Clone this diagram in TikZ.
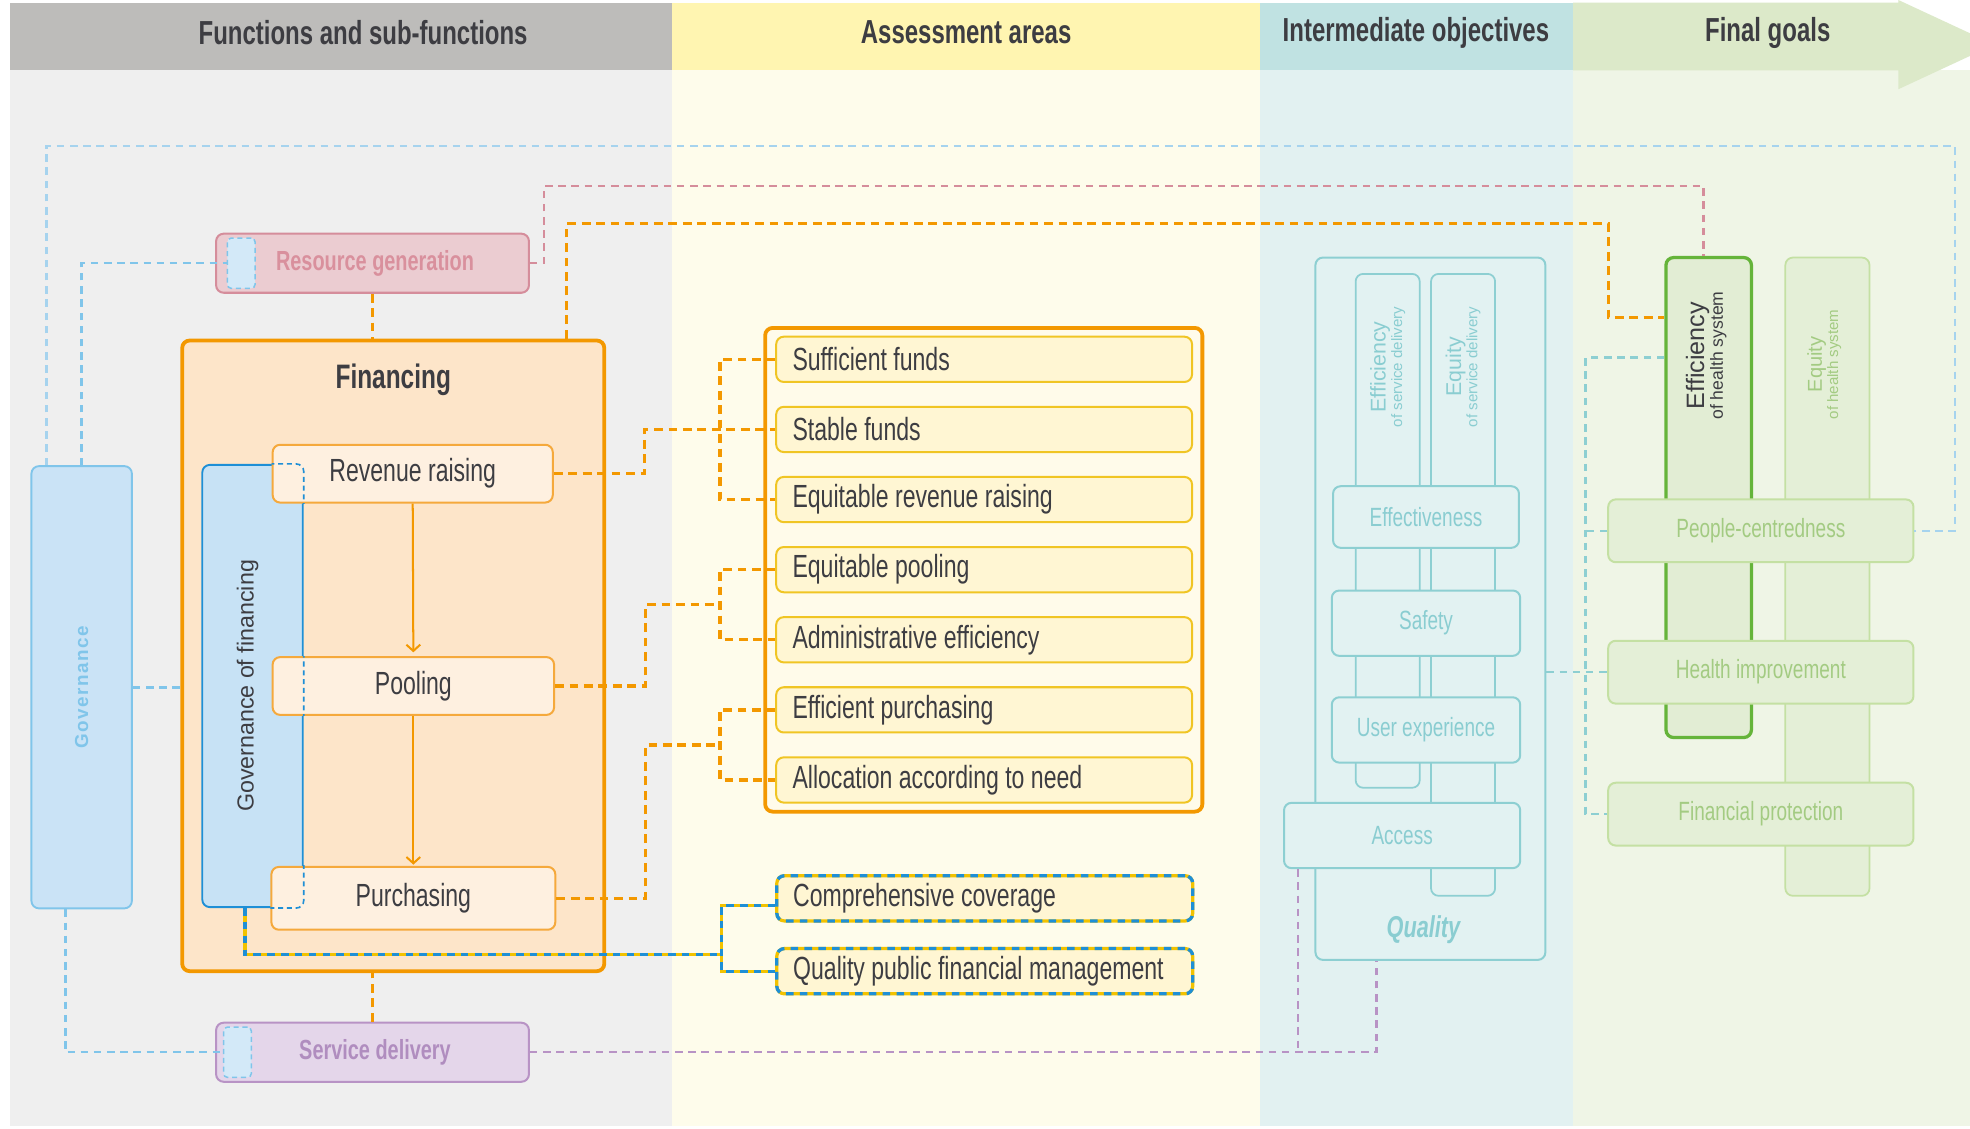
\documentclass[tikz,border=0pt]{standalone}
\usepackage{fontspec}
\setmainfont{Liberation Sans}
\newfontfamily\condfont{Liberation Sans}[FakeStretch=0.72]
\newfontfamily\spacedfont{Liberation Sans}[LetterSpace=8.0]
\usetikzlibrary{arrows.meta,calc}

\definecolor{hdgray}{HTML}{BDBCBA}
\definecolor{hdyellow}{HTML}{FFF5B1}
\definecolor{hdteal}{HTML}{C0E2E2}
\definecolor{hdgreen}{HTML}{DCE9C9}
\definecolor{bggray}{HTML}{EFEFEF}
\definecolor{bgyellow}{HTML}{FEFCEB}
\definecolor{bgteal}{HTML}{E2F1F1}
\definecolor{bggreen}{HTML}{EFF5E6}
\definecolor{txtdark}{HTML}{3D3D42}
\definecolor{finorange}{HTML}{F39800}
\definecolor{suborange}{HTML}{F5A93C}
\definecolor{finfill}{HTML}{FDE5C9}
\definecolor{subfill}{HTML}{FEF0E0}
\definecolor{itemline}{HTML}{F0C524}
\definecolor{itemfill}{HTML}{FFF6D3}
\definecolor{keyyellow}{HTML}{F2C200}
\definecolor{framefill}{HTML}{FFFBEA}
\definecolor{govblue}{HTML}{1E8FD6}
\definecolor{govfill}{HTML}{C7E2F5}
\definecolor{govlt}{HTML}{80C5EA}
\definecolor{govltfill}{HTML}{CAE3F6}
\definecolor{govpale}{HTML}{A6D3EE}
\definecolor{innerfill}{HTML}{D3E9F8}
\definecolor{rgpink}{HTML}{D58D9B}
\definecolor{rgfill}{HTML}{EBCCD1}
\definecolor{rgtext}{HTML}{D9909D}
\definecolor{sdpurple}{HTML}{B893C5}
\definecolor{sdfill}{HTML}{E4D6EA}
\definecolor{sdtext}{HTML}{B08DBF}
\definecolor{qteal}{HTML}{8DCFD2}
\definecolor{qfill}{HTML}{E2F2F2}
\definecolor{qtext}{HTML}{8ACDD1}
\definecolor{ggreen}{HTML}{65B43A}
\definecolor{glight}{HTML}{C4E0A3}
\definecolor{gfill}{HTML}{E4EFD7}
\definecolor{effhsfill}{HTML}{E2EDD4}
\definecolor{gtext}{HTML}{A3CB82}

\begin{document}
\begin{tikzpicture}[x=1pt, y=-1pt, >={Straight Barb[length=5pt,width=11pt]}]
    \tikzstyle{box}=[rectangle, rounded corners=6pt, inner sep=0pt, align=center, text=txtdark, font=\condfont\fontsize{25.5}{27}\selectfont]
    \tikzstyle{header}=[text=txtdark, font=\condfont\bfseries\fontsize{26.5}{28}\selectfont]
    \tikzstyle{func}=[box, minimum width=249pt, minimum height=47pt, line width=1.6pt, font=\condfont\bfseries\fontsize{22}{24}\selectfont]
    \tikzstyle{inner}=[rectangle, rounded corners=3pt, fill=innerfill, draw=govlt, line width=1.2pt, dash pattern=on 4pt off 3pt, minimum width=22pt, minimum height=40pt]
    \tikzstyle{gov}=[box, minimum width=80pt, minimum height=352pt]
    \tikzstyle{sub}=[box, fill=subfill, draw=suborange, line width=1.6pt, minimum height=46pt]
    \tikzstyle{item}=[box, anchor=west, fill=itemfill, draw=itemline, line width=1.6pt, text width=305pt, inner xsep=13pt, align=flush left, minimum height=36pt]
    \tikzstyle{keyitem}=[item, draw=keyyellow, line width=2.6pt, postaction={draw=govblue, line width=2.6pt, dash pattern=on 6pt off 5pt}]
    \tikzstyle{qcol}=[box, fill=qfill, draw=qteal, line width=1.4pt, minimum width=51pt]
    \tikzstyle{qbox}=[box, fill=qfill, draw=qteal, line width=1.6pt, text=qtext, font=\condfont\fontsize{21}{23}\selectfont]
    \tikzstyle{gcol}=[box, fill=gfill, draw=glight, line width=1.4pt, minimum width=67pt]
    \tikzstyle{gbox}=[box, fill=gfill, draw=glight, line width=1.6pt, minimum width=243pt, minimum height=50pt, text=gtext, font=\condfont\fontsize{21}{23}\selectfont]
    \tikzstyle{collabel}=[rotate=90, align=center, inner sep=0pt]
    \tikzstyle{odash}=[draw=finorange, line width=2.6pt, dash pattern=on 7pt off 4.5pt]
    \tikzstyle{bdash}=[draw=govlt, line width=2pt, dash pattern=on 6pt off 4.5pt]
    \tikzstyle{bdashlt}=[draw=govpale, line width=1.8pt, dash pattern=on 6pt off 4.5pt]
    \tikzstyle{pdash}=[draw=rgpink, line width=2pt, dash pattern=on 6pt off 4.5pt]
    \tikzstyle{vdash}=[draw=sdpurple, line width=1.8pt, dash pattern=on 6pt off 4.5pt]
    \tikzstyle{tdash}=[draw=qteal, line width=2pt, dash pattern=on 6pt off 4.5pt]
    \tikzstyle{bydash}=[draw=keyyellow, line width=2.4pt, postaction={draw=govblue, line width=2.4pt, dash pattern=on 6pt off 5pt}]

    \useasboundingbox (0,0) rectangle (1568,898);
    \fill[white] (0,0) rectangle (1568,898);

    % Column backgrounds and headers
    \fill[bggray] (8,56) rectangle (535,896);
    \fill[bgyellow] (535,56) rectangle (1003,896);
    \fill[bgteal] (1003,56) rectangle (1252,896);
    \fill[bggreen] (1252,56) rectangle (1568,896);
    \fill[hdgray] (8,2) rectangle (535,56);
    \fill[hdyellow] (535,2) rectangle (1003,56);
    \fill[hdteal] (1003,2) rectangle (1252,56);
    \fill[hdgreen] (1252,2) -- (1511,2) -- (1511,0) -- (1568,26.5) -- (1568,44.5) -- (1511,71) -- (1511,56) -- (1252,56) -- cycle;
    \node[header] (hfun) at (289,26) {Functions and sub-functions};
    \node[header] (hass) at (769,26) {Assessment areas};
    \node[header] (hint) at (1127,26) {Intermediate objectives};
    \node[header] (hgoal) at (1407,26) {Final goals};

    % Functions and sub-functions
    \node[gov, fill=govltfill, draw=govlt, line width=1.5pt] (gov) at (65,547) {};
    \node[rotate=90, text=govlt, font=\spacedfont\bfseries\fontsize{15}{15}\selectfont] (govlabel) at (gov.center) {Governance};
    \node[func, fill=rgfill, draw=rgpink, text=rgtext] (res) at (296.5,209.5) {\hspace*{4pt}Resource generation};
    \node[inner] (resgov) at (192,209.5) {};
    \node[func, fill=sdfill, draw=sdpurple, text=sdtext] (serv) at (296.5,837.5) {\hspace*{4pt}Service delivery};
    \node[inner] (servgov) at (189,837.5) {};

    \node[box, fill=finfill, draw=finorange, line width=3pt, minimum width=336pt, minimum height=502pt] (fin) at (313,522) {};
    \node[box, font=\condfont\bfseries\fontsize{27}{29}\selectfont] (fintitle) at (313,302) {Financing};
    \node[gov, fill=govfill, draw=govblue, line width=1.5pt] (govfin) at (201,546) {};
    \node[rotate=90, text=txtdark, font=\fontsize{18.5}{20}\selectfont] (govfinlabel) at (197,546) {Governance of financing};

    \node[sub, minimum width=223pt] (rev) at (328.5,377) {Revenue raising};
    \node[sub, minimum width=224pt] (pool) at (329,546) {Pooling};
    \node[sub, minimum width=226pt, minimum height=50pt] (purch) at (329,715) {Purchasing};

    % governance of financing seen through the sub-functions
    \foreach \n in {rev,pool,purch} {
        \begin{scope}
            \clip (\n.north west) rectangle (\n.south east);
            \draw[govblue, line width=1.3pt, dash pattern=on 4pt off 3pt, rounded corners=6pt] (govfin.north west) rectangle (govfin.south east);
        \end{scope}
    }
    \draw[->, finorange, line width=1.6pt, shorten >=3pt] (rev.south) -- (pool.north);
    \draw[->, finorange, line width=1.6pt, shorten >=1pt] (pool.south) -- (purch.north);

    % Assessment areas
    \node[box, fill=framefill, draw=finorange, line width=3pt, minimum width=348pt, minimum height=385pt] (assess) at (783,453.5) {};
    \foreach \name/\txt [count=\i] in {suff/Sufficient funds, stab/Stable funds, eqrev/Equitable revenue raising, eqpool/Equitable pooling, admin/Administrative efficiency, effpur/Efficient purchasing, alloc/Allocation according to need}
        \node[item] (\name) at (617,{286+55.8*(\i-1)}) {\txt};
    \node[keyitem] (cover) at (617,715) {Comprehensive coverage};
    \node[keyitem] (pfm) at (617,773) {Quality public financial management};

    % Intermediate objectives
    \node[box, fill=qfill, draw=qteal, line width=1.6pt, minimum width=183pt, minimum height=559pt] (qual) at (1138.5,484.5) {};
    \node[box, text=qtext, font=\condfont\bfseries\itshape\fontsize{24}{26}\selectfont] (qlabel) at (1133,740) {Quality};
    \node[qcol, minimum height=409pt] (effsd) at (1104.5,422.5) {};
    \node[qcol, minimum height=495pt] (eqsd) at (1164.5,465.5) {};
    \node[collabel, text=qtext, font=\fontsize{12}{13}\selectfont] (effsdlabel) at (1104.5,292) {{\fontsize{17}{17}\selectfont Efficiency}\\of service delivery};
    \node[collabel, text=qtext, font=\fontsize{12}{13}\selectfont] (eqsdlabel) at (1164.5,292) {{\fontsize{17}{17}\selectfont Equity}\\of service delivery};
    \node[qbox, minimum width=148pt, minimum height=49pt] (effect) at (1135,411.5) {Effectiveness};
    \node[qbox, minimum width=150pt, minimum height=52pt] (safe) at (1135,496) {Safety};
    \node[qbox, minimum width=150pt, minimum height=52pt] (user) at (1135,581) {User experience};
    \node[qbox, minimum width=188pt, minimum height=52pt] (access) at (1116,665) {Access};

    % Final goals
    \node[box, fill=effhsfill, draw=ggreen, line width=2.6pt, minimum width=68pt, minimum height=382pt] (effhs) at (1360,396) {};
    \node[gcol, minimum height=508pt] (eqhs) at (1454.5,459) {};
    \node[collabel, text=txtdark, font=\fontsize{14}{15}\selectfont] (effhslabel) at (1358,283) {{\fontsize{20}{20}\selectfont Efficiency}\\of health system};
    \node[collabel, text=gtext, font=\fontsize{12}{13}\selectfont] (eqhslabel) at (1452,290) {{\fontsize{16}{16}\selectfont Equity}\\of health system};
    \node[gbox] (people) at (1401.5,422.5) {People-centredness};
    \node[gbox] (health) at (1401.5,535) {Health improvement};
    \node[gbox] (finprot) at (1401.5,648) {Financial protection};

    % Links between functions, areas and goals
    \coordinate (gbend) at (1556,116);
    \coordinate (pbend) at (433,148);
    \coordinate (obend) at (1280,178);
    \coordinate (tbend) at (1262,648);
    \coordinate (kj) at (574,760);
    \coordinate (pj) at ($(eqpool.west)!.5!(admin.west)+(-44,0)$);
    \coordinate (uj) at ($(effpur.west)!.5!(alloc.west)+(-44,0)$);

    \draw[bdashlt] ([xshift=-28pt]gov.north) |- (gbend) |- (people.east);
    \draw[bdash] (gov.north) |- (resgov.west);
    \draw[bdash] (gov.east) -- (gov.east -| fin.west);
    \draw[bdash] ([xshift=-13pt]gov.south) |- (servgov.west);

    \draw[pdash] (res.east) -| (pbend) -| ([xshift=-4pt]effhs.north);
    \draw[odash] ([xshift=138pt]fin.north) |- (obend) |- ([yshift=-49pt]effhs.north west);
    \draw[odash] (res.south) -- (res.south |- fin.north);
    \draw[odash] (serv.north) -- (serv.north |- fin.south);

    \draw[odash] (rev.east) -- ++(72,0) |- (stab.west);
    \draw[odash] (suff.west) -- ++(-44,0) |- (eqrev.west);
    \draw[odash] (pool.east) -- ++(72,0) |- (pj);
    \draw[odash] (eqpool.west) -| (pj) |- (admin.west);
    \draw[odash] (purch.east) -- ++(71,0) |- (uj);
    \draw[odash] (effpur.west) -| (uj) |- (alloc.west);

    \draw[bydash] ([xshift=-6pt]govfin.south) |- (kj);
    \draw[bydash] ([yshift=-6pt]cover.west) -| (kj) |- (pfm.west);

    \draw[vdash] (serv.east) -| ([xshift=-43pt]qual.south);
    \draw[vdash] ([xshift=-83pt]access.south) -- ([xshift=-83pt]access.south |- serv.east);

    \draw[tdash] ([yshift=-81pt]effhs.north west) -| (tbend) -- (finprot.west);
    \draw[tdash] (people.west) -- (people.west -| tbend);
    \draw[tdash] (qual.east |- health.west) -- (health.west);
\end{tikzpicture}
\end{document}
